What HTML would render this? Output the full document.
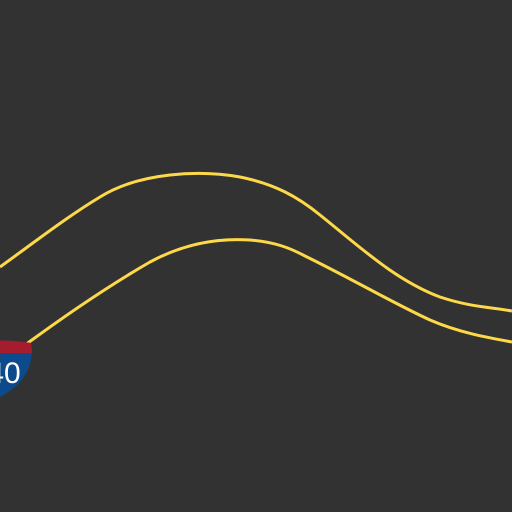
<!DOCTYPE html>
<html><head><style>html,body{margin:0;padding:0;background:#323232;}svg{display:block}</style></head>
<body>
<svg width="512" height="512" viewBox="0 0 512 512">
<rect width="512" height="512" fill="#323232"/>
<path d="M0,267 C40,238 70,215 100,197 C140,172 200,170 240,177 C275,184 298,197 320,215 C360,247 395,280 440,297 C470,307 490,307 512,311" fill="none" stroke="#fdd94a" stroke-width="3"/>
<path d="M25,345 C70,312 110,285 150,262 C185,243 220,238 250,240 C275,242 290,248 305,256 C350,278 395,304 430,320 C460,333 490,338 512,342" fill="none" stroke="#fdd94a" stroke-width="3"/>
<g>
<path d="M-32,343 Q0,338 31,343 Q36,378 0,397 Q-36,378 -32,343 Z" fill="#0d4a8c"/>
<path d="M-32,343 Q0,338 31,343 Q32,347 32,353 L-32,353 Z" fill="#a51c2e"/>
<text x="4" y="383" font-family="Liberation Sans, sans-serif" font-size="30" fill="#fff" text-anchor="middle">40</text>
</g>
</svg>
</body></html>
